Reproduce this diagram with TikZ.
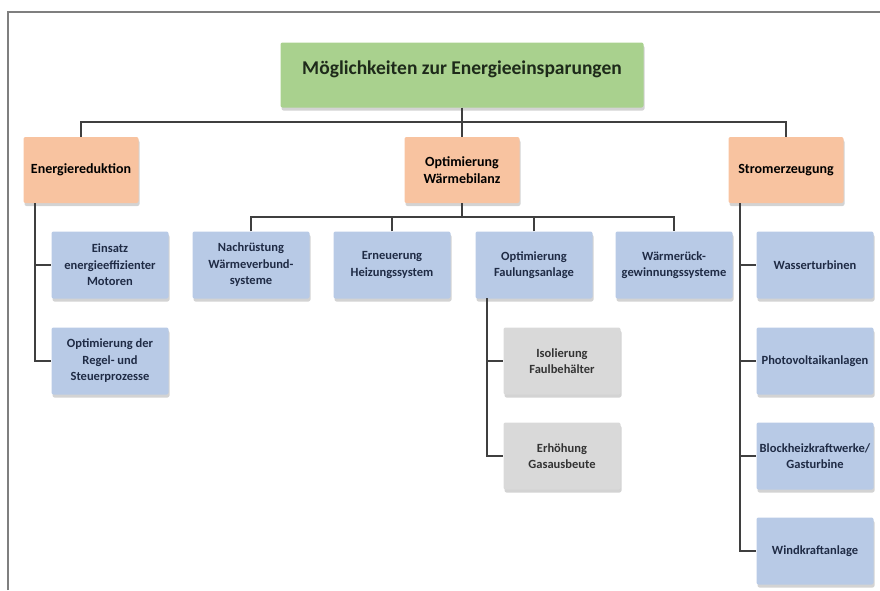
\documentclass[tikz,border=0pt]{standalone}
\usepackage{fontspec}
\setmainfont{Carlito}
\usepackage{xcolor}
\usepackage{tikz}
\usetikzlibrary{shadows}
\definecolor{rootgreen}{HTML}{A9D18E}
\definecolor{mainorange}{HTML}{F8C3A0}
\definecolor{subblue}{HTML}{B8CAE6}
\definecolor{subgray}{HTML}{D9D9D9}
\definecolor{linegray}{HTML}{3F3F3F}
\definecolor{framegray}{HTML}{7F7F7F}
\definecolor{navytext}{HTML}{1F2B45}
\definecolor{roottext}{HTML}{1E2A1A}

\begin{document}
\begin{tikzpicture}[x=1pt,y=-1pt,font=\bfseries,
  box/.style={rounded corners=2pt,align=center,inner sep=2pt,
    drop shadow={shadow xshift=1pt,shadow yshift=-3pt,opacity=0.35}},
  rootbox/.style={box,fill=rootgreen,text=roottext,minimum width=363pt,minimum height=65pt,font=\fontsize{19.5}{23}\selectfont\bfseries},
  mainbox/.style={box,fill=mainorange,minimum width=115pt,minimum height=66pt,font=\fontsize{14}{17}\selectfont\bfseries},
  subbox/.style={box,fill=subblue,text=navytext,minimum width=117pt,minimum height=67pt,font=\fontsize{12.5}{16.5}\selectfont\bfseries},
  leafbox/.style={subbox,fill=subgray,text=black!80},
  conn/.style={draw=linegray,line width=1.6pt}]
\useasboundingbox (0,0) rectangle (880,590);
% frame
\draw[framegray,line width=1.2pt] (8,590) -- (8,12) -- (880,12);
% top level
\node[rootbox] (root) at (462,75) {\raisebox{6pt}[\height][\depth]{M\"oglichkeiten zur Energieeinsparungen}};
\node[mainbox] (er) at (81,170) {Energiereduktion};
\node[mainbox] (ow) at (462,170) {Optimierung\\W\"armebilanz};
\node[mainbox] (se) at (786,170) {Stromerzeugung};
% energy reduction
\node[subbox] (e1) at (110,265) {Einsatz\\energieeffizienter\\Motoren};
\node[subbox] (e2) at (110,361) {Optimierung der\\Regel- und\\Steuerprozesse};
% heat balance
\node[subbox] (w1) at (251,265) {Nachr\"ustung\\W\"armeverbund-\\systeme};
\node[subbox] (w2) at (392,265) {Erneuerung\\Heizungssystem};
\node[subbox] (w3) at (534,265) {Optimierung\\Faulungsanlage};
\node[subbox] (w4) at (674,265) {W\"armer\"uck-\\gewinnungssysteme};
\node[leafbox] (f1) at (562,361) {Isolierung\\Faulbeh\"alter};
\node[leafbox] (f2) at (562,456) {Erh\"ohung\\Gasausbeute};
% power generation
\node[subbox] (s1) at (815,265) {Wasserturbinen};
\node[subbox] (s2) at (815,361) {Photovoltaikanlagen};
\node[subbox] (s3) at (815,456) {Blockheizkraftwerke/\\Gasturbine};
\node[subbox] (s4) at (815,551) {Windkraftanlage};
% connectors
\coordinate (bus1) at (462,122);
\coordinate (bus2) at (462,217);
\coordinate (erv) at (35,203);
\coordinate (fav) at (487,298);
\coordinate (sev) at (740,203);
\draw[conn] (root.south) -- (bus1);
\draw[conn] (er.north) |- (bus1) -| (se.north);
\draw[conn] (bus1) -- (ow.north);
\draw[conn] (ow.south) -- (bus2);
\draw[conn] (w1.north) |- (bus2) -| (w4.north);
\draw[conn] (w2.north) -- (w2.north |- bus2);
\draw[conn] (w3.north) -- (w3.north |- bus2);
\draw[conn] (erv) |- (e2.west);
\draw[conn] (erv |- e1.west) -- (e1.west);
\draw[conn] (fav) |- (f2.west);
\draw[conn] (fav |- f1.west) -- (f1.west);
\draw[conn] (sev) |- (s4.west);
\foreach \n in {s1,s2,s3}
  \draw[conn] (sev |- \n.west) -- (\n.west);
\end{tikzpicture}
\end{document}
